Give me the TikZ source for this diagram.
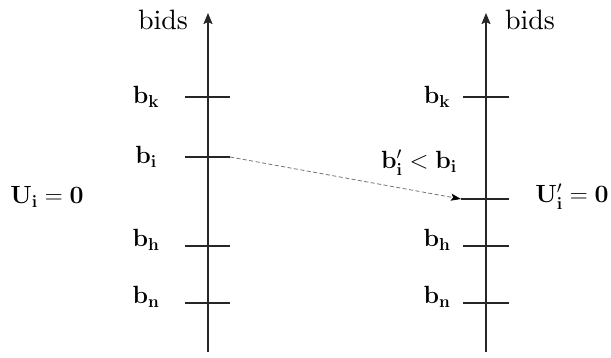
\documentclass[tikz,border=0pt]{standalone}
\usepackage{amsmath}
\usepackage[no-math]{fontspec}
\newfontfamily\bidsfont{lmroman10-regular.otf}
\usetikzlibrary{arrows.meta}
\begin{document}
\begin{tikzpicture}[x=1pt,y=-1pt,
  axis/.style={line width=1.8pt,draw=black!85,-{Stealth[length=11pt,width=9pt,inset=2pt]}},
  tick/.style={line width=1.3pt,draw=black!85},
  lab/.style={font=\fontsize{23}{26}\selectfont,inner sep=0pt},
  title/.style={font=\bidsfont\fontsize{28}{32}\selectfont,inner sep=0pt},
  move/.style={line width=0.8pt,draw=black!55,dash pattern=on 4pt off 2.5pt,-{Stealth[length=10pt,width=7pt,inset=2pt,color=black]}}]
\useasboundingbox (0,0) rectangle (611,358);
% left axis
\coordinate (L0) at (208,352);
\coordinate (L1) at (208,13);
\draw[axis] (L0) -- (L1);
\coordinate (Lka) at (185,97);  \coordinate (Lkb) at (230,97);
\coordinate (Lia) at (185,157); \coordinate (Lib) at (230,157);
\coordinate (Lha) at (185,246); \coordinate (Lhb) at (230,246);
\coordinate (Lna) at (185,303); \coordinate (Lnb) at (230,303);
\draw[tick] (Lka) -- (Lkb);
\draw[tick] (Lia) -- (Lib);
\draw[tick] (Lha) -- (Lhb);
\draw[tick] (Lna) -- (Lnb);
\node[title] (bidsL) at (163,20) {bids};
\node[lab] (bkL) at (146,97) {$\mathbf{b_k}$};
\node[lab] (biL) at (146,157) {$\mathbf{b_i}$};
\node[lab] (bhL) at (146,240) {$\mathbf{b_h}$};
\node[lab] (bnL) at (146,297) {$\mathbf{b_n}$};
\node[lab] (UL) at (47,197) {$\mathbf{U_i=0}$};
% right axis
\coordinate (R0) at (486,352);
\coordinate (R1) at (486,13);
\draw[axis] (R0) -- (R1);
\coordinate (Rka) at (463,97);  \coordinate (Rkb) at (509,97);
\coordinate (Ria) at (461,199); \coordinate (Rib) at (509,199);
\coordinate (Rha) at (463,246); \coordinate (Rhb) at (509,246);
\coordinate (Rna) at (463,303); \coordinate (Rnb) at (509,303);
\draw[tick] (Rka) -- (Rkb);
\draw[tick] (Ria) -- (Rib);
\draw[tick] (Rha) -- (Rhb);
\draw[tick] (Rna) -- (Rnb);
\node[title] (bidsR) at (530,20) {bids};
\node[lab] (bkR) at (437,97) {$\mathbf{b_k}$};
\node[lab] (bhR) at (437,240) {$\mathbf{b_h}$};
\node[lab] (bnR) at (437,297) {$\mathbf{b_n}$};
\node[lab] (UR) at (572,197) {$\mathbf{U_i'=0}$};
\node[lab] (cmp) at (419,163) {$\mathbf{b_i'<b_i}$};
% move
\draw[move] (Lib) -- (Ria);
\end{tikzpicture}
\end{document}
